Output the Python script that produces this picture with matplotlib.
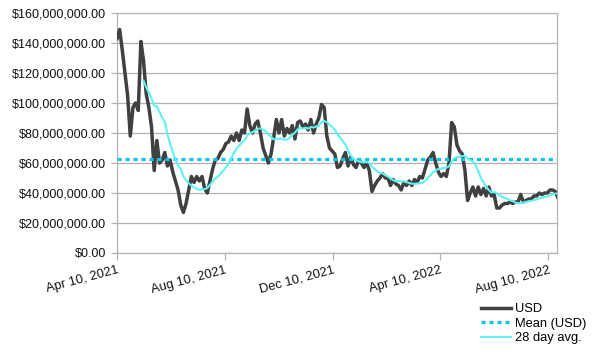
import matplotlib
matplotlib.use("Agg")
import matplotlib.pyplot as plt
import matplotlib.dates as mdates
import numpy as np
import pandas as pd

plt.rcParams['font.family'] = ['Liberation Sans', 'DejaVu Sans']

# Daily USD volume, sampled every 3 days from Apr 10, 2021 (values in millions)
start_date = "2021-04-10"
step_days = 3
usd_millions = [
    143, 149, 135, 120, 105, 78, 97, 100, 95, 141,
    128, 106, 97, 84, 55, 75, 60, 62, 67, 58,
    62, 54, 48, 42, 32, 27, 33, 42, 51, 47,
    51, 48, 51, 43, 40, 48, 56, 62, 63, 67,
    69, 73, 74, 78, 75, 80, 75, 82, 80, 96,
    85, 80, 86, 88, 80, 70, 65, 60, 66, 77,
    89, 80, 89, 78, 83, 80, 85, 76, 87, 88,
    84, 86, 82, 89, 80, 86, 90, 99, 97, 78,
    70, 68, 66, 57, 58, 63, 67, 58, 64, 59,
    57, 62, 60, 57, 60, 55, 41, 45, 48, 50,
    53, 50, 50, 45, 49, 46, 45, 42, 47, 45,
    48, 45, 49, 47, 51, 50, 56, 62, 64, 67,
    60, 54, 51, 53, 51, 60, 87, 84, 72, 68,
    66, 55, 35, 40, 44, 38, 44, 39, 43, 38,
    44, 38, 39, 30, 30, 32, 33, 33, 34, 33,
    34, 34, 39, 34, 35, 36, 36, 38, 38, 40,
    39, 40, 40, 42, 42, 41, 37,
]
tick_dates = ["2021-04-10", "2021-08-10", "2021-12-10", "2022-04-10", "2022-08-10"]
y_ticks_millions = [0, 20, 40, 60, 80, 100, 120, 140, 160]
series_labels = ["USD", "Mean (USD)", "28 day avg."]

dates = pd.date_range(start_date, periods=len(usd_millions), freq=f"{step_days}D")
usd = pd.Series(np.array(usd_millions, dtype=float) * 1e6, index=dates)
mean_usd = usd.mean()
avg28 = usd.rolling("28D").mean()
avg28[usd.index < usd.index[0] + pd.Timedelta(days=28)] = np.nan

W, H = 604, 354
fig = plt.figure(figsize=(W / 100, H / 100), dpi=100)
ax = fig.add_axes([117 / W, 1 - 253 / H, (557 - 117) / W, (253 - 13) / H])

grid_c = '#b3b3b3'
ax.set_axisbelow(True)
ax.yaxis.grid(True, color=grid_c, linewidth=0.9)
for s in ax.spines.values():
    s.set_color(grid_c)
    s.set_linewidth(0.9)

ax.plot(usd.index, usd.values, color='#404040', linewidth=2.5, label=series_labels[0], zorder=3)
ax.plot([usd.index[0], usd.index[-1]], [mean_usd, mean_usd], color='#12c2ee', linewidth=2.3,
        linestyle=(0, (1.3, 1.2)), dash_capstyle='butt', label=series_labels[1], zorder=4)
ax.plot(avg28.index, avg28.values, color='#5cf3f3', linewidth=1.5, label=series_labels[2], zorder=5)

ax.set_xlim(pd.Timestamp("2021-04-10"), pd.Timestamp("2022-08-20"))
ax.set_ylim(0, 160e6)
ax.set_yticks([v * 1e6 for v in y_ticks_millions])
ax.set_yticklabels([f"${v * 1e6:,.2f}" for v in y_ticks_millions])
ax.set_xticks([pd.Timestamp(d) for d in tick_dates])
ax.xaxis.set_major_formatter(mdates.DateFormatter("%b %d, %Y"))

ax.tick_params(axis='y', length=4, width=0.9, color=grid_c, pad=4, labelsize=9.0, labelcolor='#111111')
ax.tick_params(axis='x', length=5, width=0.9, color=grid_c, pad=3, labelsize=9.3, labelcolor='#111111')
for lbl in ax.get_xticklabels():
    lbl.set_rotation(15)
    lbl.set_ha('right')
    lbl.set_rotation_mode('anchor')

handles, labels = ax.get_legend_handles_labels()
fig.legend(handles, labels, loc='upper left', bbox_to_anchor=(481 / W, 1 - 303 / H),
           frameon=False, fontsize=9.3, handlelength=2.35, handletextpad=0.25,
           labelspacing=0.2, borderpad=0, borderaxespad=0)

fig.savefig("out.png", dpi=100)
